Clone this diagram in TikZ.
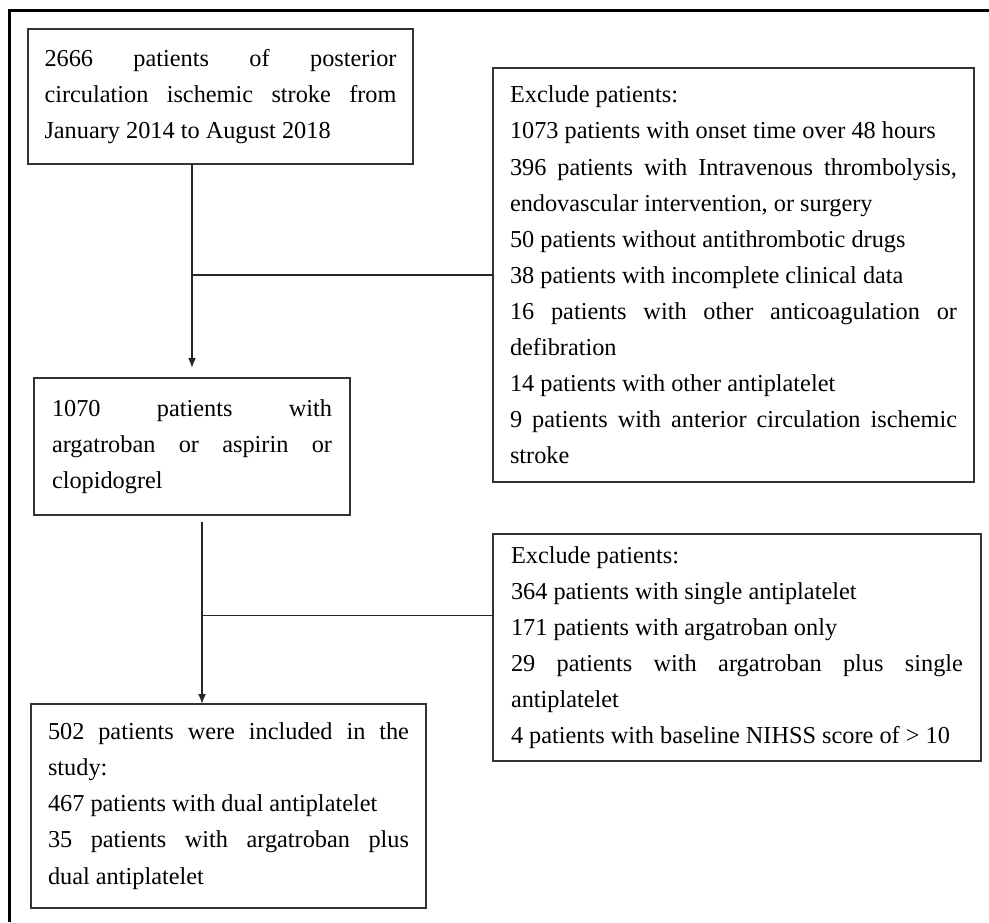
\documentclass[tikz,border=0pt]{standalone}
\usepackage{fontspec}
\setmainfont{Liberation Serif}
\usetikzlibrary{arrows.meta}
\hbadness=10000
\hyphenpenalty=10000
\exhyphenpenalty=10000
\begin{document}
\begin{tikzpicture}[
  x=1pt, y=-1pt,
  box/.style={rectangle, draw=black!80, line width=1.8pt, anchor=north west, outer sep=0pt, inner sep=0pt, align=justify, font=\fontsize{24.3}{36.1}\selectfont},
  arrow/.style={-{Latex[length=10pt,width=8pt]}, line width=1.8pt, draw=black!85},
  link/.style={line width=1.8pt, draw=black!85}
]
\useasboundingbox (0,0) rectangle (989,922);

% Frame
\draw[line width=3pt] (9,922) -- (9,10) -- (989,10);

% Main flow
\node[box, minimum width=385pt, minimum height=135pt, text width=352pt] (src) at (28,29) {2666 patients of posterior\linebreak circulation ischemic stroke from\linebreak January 2014 to August 2018};
\node[box, minimum width=316pt, minimum height=137pt, text width=280pt] (drug) at (34,378) {1070 patients with\linebreak argatroban or aspirin or\linebreak clopidogrel};
\node[box, minimum width=395pt, minimum height=204pt, text width=361pt] (incl) at (31,704) {502 patients were included in the\linebreak study:\\467 patients with dual antiplatelet\\35 patients with argatroban plus\linebreak dual antiplatelet};

% Exclusions
\node[box, minimum width=481pt, minimum height=414pt, text width=447pt] (exclA) at (493,68) {Exclude patients:\\1073 patients with onset time over 48 hours\\396 patients with Intravenous thrombolysis,\linebreak endovascular intervention, or surgery\\50 patients without antithrombotic drugs\\38 patients with incomplete clinical data\\16 patients with other anticoagulation or\linebreak defibration\\14 patients with other antiplatelet\\9 patients with anterior circulation ischemic\linebreak stroke};
\node[box, minimum width=488pt, minimum height=227pt, text width=452pt] (exclB) at (493,534) {Exclude patients:\\364 patients with single antiplatelet\\171 patients with argatroban only\\29 patients with argatroban plus single\linebreak antiplatelet\\4 patients with baseline NIHSS score of > 10};

% Arrows
\coordinate (s1) at (src.south -| drug.north);
\draw[arrow] (s1) -- ([yshift=10pt]drug.north);
\draw[link] (s1 |- exclA.west) -- (exclA.west);

\coordinate (s2) at ([xshift=10pt,yshift=-7pt]drug.south);
\path ([yshift=32pt]exclB.west) coordinate (b2);
\draw[arrow] (s2) -- (s2 |- incl.north);
\draw[link] (s2 |- b2) -- (b2);

\end{tikzpicture}
\end{document}
